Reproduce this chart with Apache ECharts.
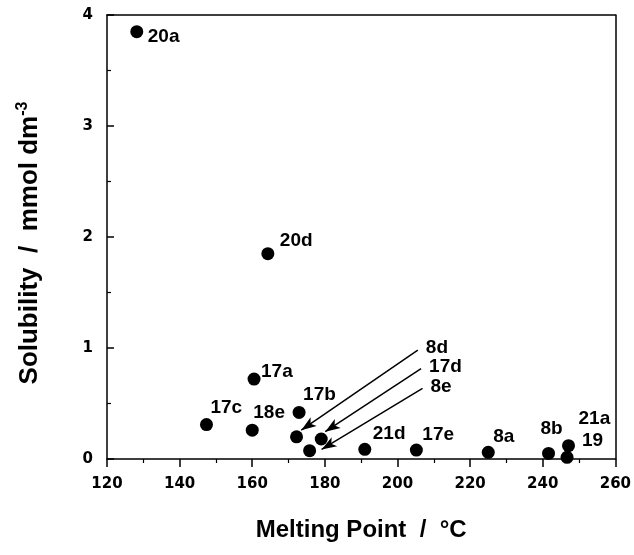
<!DOCTYPE html>
<html>
<head>
<meta charset="utf-8">
<script src="https://cdn.jsdelivr.net/npm/echarts@6/dist/echarts.min.js"></script>
<style>
  html, body { margin: 0; padding: 0; background: #fff; }
  #chart { width: 634px; height: 555px; }
</style>
</head>
<body>
<div id="chart"></div>
<script>
var chart = echarts.init(document.getElementById('chart'));

// compounds, melting point (°C) and solubility (mmol dm-3)
var names = ['20a', '20d', '17a', '17c', '18e', '17b', '8d', '17d', '8e', '21d', '17e', '8a', '8b', '21a', '19'];
var meltingPoint = [128.2, 164.3, 160.5, 147.4, 160.0, 172.9, 172.2, 179.0, 175.8, 191.0, 205.2, 225.0, 241.6, 247.1, 246.7];
var solubility = [3.85, 1.85, 0.72, 0.31, 0.26, 0.42, 0.20, 0.18, 0.075, 0.087, 0.08, 0.06, 0.05, 0.12, 0.015];

// annotation arrows: label, start [mp, sol], end [mp, sol]
var arrowNames = ['8d', '17d', '8e'];
var arrowStart = [[205.6, 0.98], [206.5, 0.815], [206.9, 0.636]];
var arrowEnd = [[173.5, 0.26], [180.1, 0.246], [179.1, 0.086]];

var xTicks = [120, 140, 160, 180, 200, 220, 240, 260];
var yTicks = [0, 1, 2, 3, 4];

// label offsets (px from point centre), points with arrows have no label
var labelOffset = {
    '20a': [11, 5], '20d': [12, -13], '17a': [7, -7], '17c': [4, -17],
    '18e': [1, -17], '17b': [4, -18], '21d': [8, -16], '17e': [6, -15],
    '8a': [5, -16], '8b': [-8, -25], '21a': [10, -27], '19': [15, -17]
};

var font = 'Liberation Sans, Arial, sans-serif';

var points = names.map(function (n, i) {
    var off = labelOffset[n];
    return {
        name: n,
        value: [meltingPoint[i], solubility[i]],
        label: off ? { show: true, offset: off } : { show: false }
    };
});

var arrowLines = arrowNames.map(function (n, i) {
    return [
        { coord: arrowStart[i], symbol: 'none' },
        { coord: arrowEnd[i], symbol: 'arrow', symbolSize: [8, 15] }
    ];
});

var arrowLabels = arrowNames.map(function (n, i) {
    return { name: n, value: arrowStart[i] };
});

var option = {
    backgroundColor: '#fff',
    animation: false,
    grid: { left: 107, right: 18, top: 15, bottom: 96 },
    xAxis: [{
        type: 'value',
        min: xTicks[0],
        max: xTicks[xTicks.length - 1],
        interval: 20,
        name: 'Melting Point  /  °C',
        nameLocation: 'middle',
        nameGap: 59,
        nameTextStyle: { fontFamily: font, fontWeight: 'bold', fontSize: 24, color: '#000' },
        axisLine: { onZero: false, lineStyle: { color: '#000', width: 1.5 } },
        axisTick: { inside: false, length: 8, lineStyle: { color: '#000', width: 1.5 } },
        minorTick: { show: true, splitNumber: 2, length: 4, lineStyle: { color: '#000', width: 1.2 } },
        axisLabel: { margin: 18, fontFamily: 'DejaVu Sans', fontWeight: 'bold', fontSize: 15, color: '#000' },
        splitLine: { show: false }
    }, {
        type: 'value',
        position: 'top',
        min: xTicks[0],
        max: xTicks[xTicks.length - 1],
        axisLine: { show: true, onZero: false, lineStyle: { color: '#000', width: 1.5 } },
        axisTick: { show: false },
        axisLabel: { show: false },
        splitLine: { show: false }
    }],
    yAxis: [{
        type: 'value',
        min: yTicks[0],
        max: yTicks[yTicks.length - 1],
        interval: 1,
        name: '{a|Solubility  /  mmol dm}{s|-3}',
        nameLocation: 'middle',
        nameGap: 62,
        nameTextStyle: {
            padding: [0, 12, 0, 0],
            rich: {
                a: { fontFamily: font, fontWeight: 'bold', fontSize: 26, color: '#000', lineHeight: 30 },
                s: { fontFamily: font, fontWeight: 'bold', fontSize: 16, color: '#000', verticalAlign: 'top', lineHeight: 30 }
            }
        },
        axisLine: { onZero: false, lineStyle: { color: '#000', width: 1.5 } },
        axisTick: { inside: true, length: 7, lineStyle: { color: '#000', width: 1.5 } },
        minorTick: { show: true, splitNumber: 2, length: 4, lineStyle: { color: '#000', width: 1.2 } },
        axisLabel: { margin: 14, padding: [8, 0, 0, 0], fontFamily: 'DejaVu Sans', fontWeight: 'bold', fontSize: 15, color: '#000' },
        splitLine: { show: false }
    }, {
        type: 'value',
        position: 'right',
        min: yTicks[0],
        max: yTicks[yTicks.length - 1],
        axisLine: { show: true, onZero: false, lineStyle: { color: '#000', width: 1.5 } },
        axisTick: { show: false },
        axisLabel: { show: false },
        splitLine: { show: false }
    }],
    series: [{
        type: 'scatter',
        data: points,
        symbol: 'circle',
        symbolSize: 13,
        itemStyle: { color: '#000', opacity: 1 },
        label: {
            position: 'inside',
            align: 'left',
            verticalAlign: 'middle',
            formatter: '{b}',
            fontFamily: font,
            fontWeight: 'bold',
            fontSize: 19,
            color: '#000'
        },
        markLine: {
            silent: true,
            animation: false,
            label: { show: false },
            lineStyle: { color: '#000', width: 1.5, type: 'solid', opacity: 1 },
            data: arrowLines
        },
        z: 3
    }, {
        type: 'scatter',
        data: arrowLabels,
        symbolSize: 0,
        silent: true,
        itemStyle: { opacity: 1 },
        label: {
            show: true,
            position: 'inside',
            align: 'left',
            verticalAlign: 'middle',
            offset: [8, -2],
            formatter: '{b}',
            fontFamily: font,
            fontWeight: 'bold',
            fontSize: 19,
            color: '#000'
        }
    }]
};
chart.setOption(option);
</script>
</body>
</html>
